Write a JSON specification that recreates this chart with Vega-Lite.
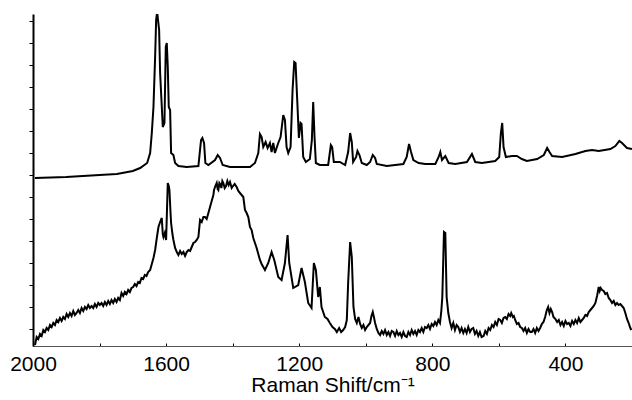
{
  "$schema": "https://vega.github.io/schema/vega-lite/v6.json",
  "width": 599,
  "height": 332,
  "autosize": "none",
  "padding": {"left": 33, "top": 14, "right": 0, "bottom": 54},
  "background": "white",
  "config": {"view": {"stroke": null}},
  "datasets": {
    "top": [
      {"x":1994,"y":168},{"x":1900,"y":169},{"x":1800,"y":171},{"x":1748,"y":172},{"x":1700,"y":175},{"x":1678,"y":178},{"x":1657,"y":183},{"x":1648,"y":193},{"x":1643,"y":213},{"x":1638,"y":239},{"x":1633,"y":289},{"x":1630,"y":326},{"x":1627,"y":334},{"x":1621,"y":316},{"x":1618,"y":273},{"x":1614,"y":246},{"x":1610,"y":219},{"x":1605,"y":223},{"x":1601,"y":299},{"x":1598,"y":303},{"x":1595,"y":279},{"x":1592,"y":239},{"x":1588,"y":236},{"x":1585,"y":193},{"x":1578,"y":191},{"x":1573,"y":183},{"x":1563,"y":180},{"x":1538,"y":179},{"x":1503,"y":180},{"x":1495,"y":206},{"x":1491,"y":208},{"x":1486,"y":203},{"x":1482,"y":183},{"x":1473,"y":181},{"x":1453,"y":186},{"x":1445,"y":191},{"x":1438,"y":188},{"x":1430,"y":181},{"x":1408,"y":179},{"x":1348,"y":179},{"x":1333,"y":183},{"x":1323,"y":193},{"x":1318,"y":212},{"x":1313,"y":209},{"x":1308,"y":199},{"x":1301,"y":204},{"x":1295,"y":198},{"x":1288,"y":203},{"x":1283,"y":194},{"x":1278,"y":203},{"x":1273,"y":193},{"x":1263,"y":203},{"x":1256,"y":209},{"x":1248,"y":231},{"x":1243,"y":226},{"x":1238,"y":199},{"x":1233,"y":193},{"x":1226,"y":199},{"x":1220,"y":256},{"x":1215,"y":284},{"x":1211,"y":283},{"x":1206,"y":246},{"x":1201,"y":208},{"x":1196,"y":223},{"x":1193,"y":222},{"x":1188,"y":189},{"x":1180,"y":184},{"x":1168,"y":187},{"x":1162,"y":206},{"x":1158,"y":244},{"x":1154,"y":209},{"x":1150,"y":183},{"x":1138,"y":181},{"x":1113,"y":181},{"x":1105,"y":201},{"x":1101,"y":199},{"x":1096,"y":184},{"x":1078,"y":184},{"x":1062,"y":181},{"x":1053,"y":194},{"x":1047,"y":213},{"x":1042,"y":204},{"x":1038,"y":184},{"x":1029,"y":189},{"x":1025,"y":195},{"x":1019,"y":191},{"x":1012,"y":183},{"x":997,"y":181},{"x":987,"y":184},{"x":979,"y":191},{"x":972,"y":188},{"x":967,"y":182},{"x":937,"y":180},{"x":887,"y":182},{"x":877,"y":189},{"x":870,"y":202},{"x":864,"y":194},{"x":857,"y":186},{"x":841,"y":183},{"x":821,"y":182},{"x":791,"y":182},{"x":781,"y":189},{"x":776,"y":194},{"x":771,"y":186},{"x":761,"y":190},{"x":751,"y":183},{"x":731,"y":182},{"x":696,"y":184},{"x":681,"y":192},{"x":671,"y":184},{"x":651,"y":183},{"x":611,"y":185},{"x":599,"y":189},{"x":594,"y":213},{"x":590,"y":223},{"x":586,"y":199},{"x":579,"y":189},{"x":561,"y":190},{"x":546,"y":190},{"x":531,"y":187},{"x":516,"y":185},{"x":485,"y":187},{"x":465,"y":191},{"x":455,"y":198},{"x":448,"y":194},{"x":440,"y":190},{"x":410,"y":189},{"x":370,"y":192},{"x":340,"y":195},{"x":320,"y":196},{"x":300,"y":195},{"x":265,"y":197},{"x":250,"y":200},{"x":238,"y":205},{"x":230,"y":203},{"x":215,"y":198},{"x":200,"y":197}
    ],
    "bottom": [
      {"x":1994,"y":1},{"x":1989,"y":9},{"x":1984,"y":7},{"x":1979,"y":12},{"x":1974,"y":10},{"x":1969,"y":16},{"x":1964,"y":14},{"x":1959,"y":18},{"x":1954,"y":16},{"x":1949,"y":21},{"x":1944,"y":19},{"x":1939,"y":23},{"x":1934,"y":21},{"x":1929,"y":26},{"x":1924,"y":24},{"x":1919,"y":28},{"x":1914,"y":25},{"x":1909,"y":29},{"x":1904,"y":27},{"x":1899,"y":32},{"x":1894,"y":29},{"x":1889,"y":33},{"x":1884,"y":30},{"x":1879,"y":35},{"x":1874,"y":31},{"x":1869,"y":33},{"x":1864,"y":36},{"x":1859,"y":33},{"x":1854,"y":38},{"x":1849,"y":35},{"x":1844,"y":39},{"x":1839,"y":37},{"x":1834,"y":41},{"x":1829,"y":38},{"x":1824,"y":40},{"x":1819,"y":38},{"x":1814,"y":42},{"x":1809,"y":39},{"x":1804,"y":43},{"x":1799,"y":41},{"x":1794,"y":43},{"x":1789,"y":40},{"x":1784,"y":44},{"x":1779,"y":41},{"x":1774,"y":45},{"x":1769,"y":42},{"x":1764,"y":46},{"x":1759,"y":43},{"x":1754,"y":47},{"x":1749,"y":44},{"x":1744,"y":48},{"x":1739,"y":46},{"x":1734,"y":53},{"x":1729,"y":50},{"x":1724,"y":54},{"x":1719,"y":52},{"x":1714,"y":56},{"x":1709,"y":54},{"x":1704,"y":58},{"x":1699,"y":59},{"x":1694,"y":62},{"x":1689,"y":60},{"x":1684,"y":64},{"x":1679,"y":63},{"x":1674,"y":68},{"x":1669,"y":67},{"x":1664,"y":71},{"x":1659,"y":70},{"x":1654,"y":74},{"x":1648,"y":76},{"x":1643,"y":82},{"x":1638,"y":88},{"x":1633,"y":96},{"x":1628,"y":108},{"x":1623,"y":119},{"x":1618,"y":124},{"x":1613,"y":128},{"x":1610,"y":112},{"x":1608,"y":109},{"x":1604,"y":113},{"x":1600,"y":106},{"x":1597,"y":140},{"x":1595,"y":163},{"x":1592,"y":160},{"x":1590,"y":156},{"x":1587,"y":135},{"x":1585,"y":123},{"x":1581,"y":112},{"x":1578,"y":106},{"x":1573,"y":98},{"x":1568,"y":94},{"x":1563,"y":91},{"x":1558,"y":95},{"x":1553,"y":92},{"x":1548,"y":94},{"x":1543,"y":90},{"x":1538,"y":94},{"x":1533,"y":96},{"x":1528,"y":95},{"x":1523,"y":99},{"x":1518,"y":103},{"x":1513,"y":104},{"x":1508,"y":106},{"x":1503,"y":109},{"x":1498,"y":126},{"x":1493,"y":124},{"x":1488,"y":129},{"x":1483,"y":129},{"x":1478,"y":127},{"x":1473,"y":133},{"x":1468,"y":139},{"x":1463,"y":145},{"x":1458,"y":151},{"x":1456,"y":156},{"x":1452,"y":160},{"x":1448,"y":163},{"x":1445,"y":157},{"x":1443,"y":156},{"x":1440,"y":163},{"x":1438,"y":162},{"x":1434,"y":158},{"x":1431,"y":165},{"x":1428,"y":163},{"x":1424,"y":158},{"x":1420,"y":160},{"x":1416,"y":165},{"x":1412,"y":161},{"x":1408,"y":164},{"x":1403,"y":158},{"x":1399,"y":160},{"x":1394,"y":162},{"x":1388,"y":159},{"x":1383,"y":155},{"x":1378,"y":153},{"x":1373,"y":151},{"x":1368,"y":149},{"x":1363,"y":136},{"x":1358,"y":133},{"x":1353,"y":129},{"x":1348,"y":119},{"x":1343,"y":116},{"x":1338,"y":108},{"x":1333,"y":103},{"x":1328,"y":98},{"x":1323,"y":92},{"x":1318,"y":86},{"x":1313,"y":82},{"x":1308,"y":79},{"x":1303,"y":76},{"x":1293,"y":83},{"x":1283,"y":94},{"x":1275,"y":86},{"x":1263,"y":69},{"x":1253,"y":66},{"x":1243,"y":83},{"x":1235,"y":111},{"x":1230,"y":83},{"x":1218,"y":58},{"x":1203,"y":61},{"x":1193,"y":78},{"x":1183,"y":64},{"x":1173,"y":43},{"x":1163,"y":38},{"x":1156,"y":83},{"x":1150,"y":76},{"x":1143,"y":49},{"x":1138,"y":59},{"x":1133,"y":39},{"x":1123,"y":29},{"x":1115,"y":27},{"x":1108,"y":23},{"x":1100,"y":19},{"x":1093,"y":17},{"x":1087,"y":14},{"x":1080,"y":18},{"x":1074,"y":14},{"x":1068,"y":16},{"x":1062,"y":19},{"x":1057,"y":26},{"x":1053,"y":63},{"x":1047,"y":104},{"x":1042,"y":89},{"x":1037,"y":39},{"x":1032,"y":27},{"x":1027,"y":23},{"x":1022,"y":29},{"x":1017,"y":22},{"x":1012,"y":18},{"x":1007,"y":21},{"x":1002,"y":16},{"x":997,"y":19},{"x":992,"y":21},{"x":987,"y":23},{"x":983,"y":30},{"x":979,"y":34},{"x":975,"y":28},{"x":972,"y":23},{"x":967,"y":17},{"x":962,"y":13},{"x":957,"y":11},{"x":952,"y":15},{"x":947,"y":12},{"x":942,"y":16},{"x":937,"y":11},{"x":932,"y":14},{"x":927,"y":10},{"x":922,"y":15},{"x":917,"y":14},{"x":912,"y":10},{"x":907,"y":15},{"x":902,"y":11},{"x":897,"y":13},{"x":892,"y":9},{"x":887,"y":14},{"x":882,"y":10},{"x":877,"y":9},{"x":872,"y":14},{"x":867,"y":11},{"x":862,"y":16},{"x":857,"y":12},{"x":852,"y":15},{"x":847,"y":11},{"x":842,"y":16},{"x":837,"y":14},{"x":832,"y":18},{"x":827,"y":14},{"x":822,"y":19},{"x":817,"y":18},{"x":812,"y":21},{"x":807,"y":17},{"x":802,"y":22},{"x":797,"y":20},{"x":792,"y":24},{"x":787,"y":21},{"x":782,"y":26},{"x":777,"y":23},{"x":773,"y":35},{"x":770,"y":49},{"x":765,"y":114},{"x":761,"y":113},{"x":757,"y":49},{"x":752,"y":33},{"x":747,"y":24},{"x":742,"y":18},{"x":737,"y":23},{"x":732,"y":16},{"x":727,"y":21},{"x":722,"y":19},{"x":717,"y":14},{"x":712,"y":18},{"x":707,"y":13},{"x":702,"y":17},{"x":697,"y":13},{"x":692,"y":19},{"x":687,"y":14},{"x":682,"y":17},{"x":677,"y":18},{"x":672,"y":12},{"x":667,"y":15},{"x":662,"y":10},{"x":657,"y":14},{"x":652,"y":9},{"x":646,"y":10},{"x":641,"y":15},{"x":636,"y":12},{"x":631,"y":18},{"x":626,"y":16},{"x":621,"y":21},{"x":616,"y":19},{"x":611,"y":24},{"x":606,"y":21},{"x":601,"y":27},{"x":596,"y":26},{"x":591,"y":23},{"x":586,"y":28},{"x":581,"y":29},{"x":576,"y":27},{"x":571,"y":32},{"x":566,"y":30},{"x":563,"y":33},{"x":558,"y":29},{"x":555,"y":30},{"x":551,"y":26},{"x":546,"y":22},{"x":541,"y":23},{"x":536,"y":19},{"x":531,"y":18},{"x":526,"y":15},{"x":521,"y":18},{"x":516,"y":13},{"x":511,"y":17},{"x":506,"y":14},{"x":501,"y":14},{"x":496,"y":17},{"x":491,"y":13},{"x":486,"y":18},{"x":481,"y":15},{"x":476,"y":18},{"x":471,"y":22},{"x":466,"y":24},{"x":461,"y":29},{"x":456,"y":36},{"x":452,"y":39},{"x":448,"y":33},{"x":444,"y":37},{"x":440,"y":34},{"x":436,"y":29},{"x":430,"y":27},{"x":425,"y":24},{"x":420,"y":26},{"x":415,"y":21},{"x":410,"y":24},{"x":405,"y":20},{"x":400,"y":25},{"x":395,"y":22},{"x":390,"y":23},{"x":385,"y":20},{"x":380,"y":25},{"x":375,"y":22},{"x":370,"y":26},{"x":365,"y":23},{"x":360,"y":28},{"x":355,"y":24},{"x":350,"y":26},{"x":345,"y":28},{"x":340,"y":31},{"x":335,"y":30},{"x":330,"y":34},{"x":325,"y":36},{"x":320,"y":38},{"x":315,"y":40},{"x":310,"y":43},{"x":305,"y":50},{"x":300,"y":59},{"x":297,"y":55},{"x":294,"y":58},{"x":290,"y":56},{"x":285,"y":55},{"x":280,"y":52},{"x":275,"y":53},{"x":270,"y":48},{"x":265,"y":46},{"x":260,"y":43},{"x":255,"y":45},{"x":250,"y":41},{"x":245,"y":43},{"x":240,"y":41},{"x":235,"y":42},{"x":230,"y":40},{"x":225,"y":38},{"x":220,"y":33},{"x":215,"y":27},{"x":210,"y":23},{"x":205,"y":18},{"x":202,"y":16}
    ]
  },
  "layer": [
    {
      "data": {"name": "top"},
      "mark": {"type": "line", "color": "black", "strokeWidth": 2, "clip": true},
      "encoding": {
        "x": {"field": "x", "type": "quantitative", "scale": {"domain": [2000, 200], "nice": false},
          "axis": {"values": [2000,1800,1600,1400,1200,1000,800,600,400], "tickCount": 20, "format": "d",
            "labelExpr": "datum.value % 400 == 0 ? datum.label : ''", "labelFlush": false, "labelOverlap": false,
            "title": "Raman Shift/cm⁻¹", "grid": false, "tickSize": -3, "tickColor": "black",
            "domainColor": "#555", "domainWidth": 1,
            "labelFont": "Liberation Sans", "labelFontSize": 21, "labelColor": "black", "labelPadding": 10,
            "titleFont": "Liberation Sans", "titleFontSize": 21, "titleFontWeight": "normal", "titleColor": "black", "titlePadding": 0}},
        "y": {"field": "y", "type": "quantitative", "scale": {"domain": [0, 332], "nice": false},
          "axis": {"values": [17,39,61,83,105,127,149,171,193,215,237,259,281,303,325], "tickCount": 30, "labels": false, "title": null,
            "grid": false, "tickSize": 4, "tickWidth": 1, "tickColor": "black", "domainColor": "black", "domainWidth": 2}}
      }
    },
    {
      "data": {"name": "bottom"},
      "mark": {"type": "line", "color": "black", "strokeWidth": 2, "clip": true},
      "encoding": {
        "x": {"field": "x", "type": "quantitative"},
        "y": {"field": "y", "type": "quantitative"}
      }
    }
  ]
}
